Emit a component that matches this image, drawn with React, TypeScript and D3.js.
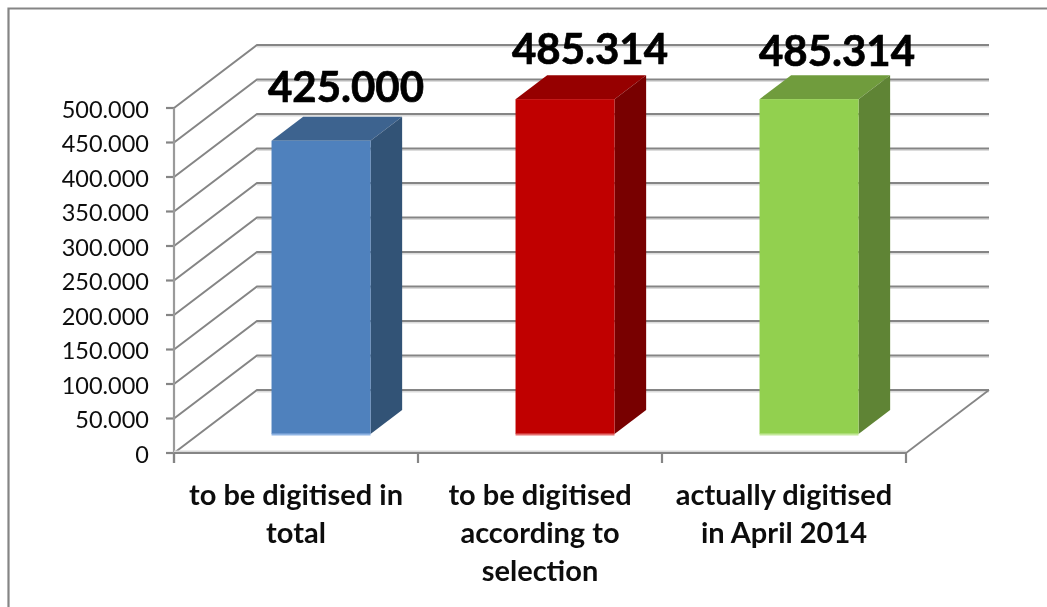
import React from "react";
import * as d3 from "d3";

const categories = [
  ["to be digitised in", "total"],
  ["to be digitised", "according to", "selection"],
  ["actually digitised", "in April 2014"],
];
const values = [425000, 485314, 485314];
const frontColors = ["#4f81bd", "#c00000", "#92d050"];
const topColors = ["#3e648f", "#960000", "#709c3e"];
const sideColors = ["#325276", "#780000", "#5f8434"];
const baseColors = ["#8fb4e3", "#e46c6c", "#c3e89a"];
const tickValues = d3.range(0, 500001, 50000);

const W = 1047, H = 607;
const FONT = "Lato, 'Open Sans', sans-serif";
const GRID = "#858585";
const fmt = d3.formatLocale({ decimal: ",", thousands: ".", grouping: [3], currency: ["", ""] }).format(",d");

const x = d3.scaleBand<number>().domain(d3.range(categories.length)).range([174, 906]);
const y = d3.scaleLinear().domain([0, 500000]).range([453, 108]);
const wallDx = 83, wallDy = -63;
const barWidth = 99;
const depthStart = 19 / 63, depthSize = 24 / 63;
// Hand-placed value labels of the reference, relative to the top of each bar
const labelDx = [25, 25, 28], labelDy = [-39, -35, -33];

export default function App() {
  const poly = d3.line();
  return (
    <svg width={W} height={H} viewBox={`0 0 ${W} ${H}`} style={{ position: "absolute", left: 0, top: 0, background: "#fff" }}>
      <defs>
        <filter id="soft" x="-2%" y="-2%" width="104%" height="104%">
          <feGaussianBlur stdDeviation="0.45" />
        </filter>
      </defs>
      <g filter="url(#soft)">
        <path d={`M8.5,${H} V8.5 H${W}`} fill="none" stroke="#858585" strokeWidth={2.2} />

        {tickValues.map((v) => {
          const fy = y(v);
          const by = fy + wallDy;
          return (
            <g key={v}>
              <line x1={174 + wallDx} x2={906 + wallDx} y1={by + 1.8} y2={by + 1.8} stroke="#dcdcdc" strokeWidth={1.5} />
              <path
                d={poly([[174, fy], [174 + wallDx, by], [906 + wallDx, by]]) ?? ""}
                fill="none"
                stroke={GRID}
                strokeWidth={2}
              />
              <line x1={166} x2={174} y1={fy} y2={fy} stroke={GRID} strokeWidth={2.2} />
              <text x={149} y={fy + 9.5} textAnchor="end" fontFamily={FONT} fontSize={23.5} fill="#111">
                {v === 0 ? "0" : fmt(v)}
              </text>
            </g>
          );
        })}

        <line x1={174} x2={174} y1={y(500000)} y2={463} stroke="#9a9a9a" strokeWidth={2.2} />
        <line x1={174} x2={906} y1={y(0) - 1.8} y2={y(0) - 1.8} stroke="#d8d8d8" strokeWidth={1.5} />
        <line x1={174} x2={906} y1={y(0)} y2={y(0)} stroke={GRID} strokeWidth={2} />
        <line x1={906} x2={906 + wallDx} y1={y(0)} y2={y(0) + wallDy} stroke={GRID} strokeWidth={1.8} />
        {d3.range(categories.length + 1).map((i) => {
          const tx = i < categories.length ? x(i)! : x.range()[1];
          return <line key={i} x1={tx} x2={tx} y1={y(0)} y2={463} stroke={GRID} strokeWidth={2.2} />;
        })}

        {values.map((v, i) => {
          const cx = x(i)! + x.bandwidth() / 2 + wallDx * depthStart;
          const x0 = cx - barWidth / 2, x1 = cx + barWidth / 2;
          const shift = wallDy * depthStart;
          const yb = y(0) + shift, yt = y(v) + shift;
          const ddx = wallDx * depthSize, ddy = wallDy * depthSize;
          return (
            <g key={i}>
              <path d={poly([[x0, yt], [x1, yt], [x1 + ddx, yt + ddy], [x0 + ddx, yt + ddy]])! + "Z"} fill={topColors[i]} />
              <path d={poly([[x1, yt], [x1 + ddx, yt + ddy], [x1 + ddx, yb + ddy], [x1, yb]])! + "Z"} fill={sideColors[i]} />
              <rect x={x0} y={yt} width={barWidth} height={yb - yt} fill={frontColors[i]} />
              <rect x={x0} y={yb - 0.5} width={barWidth} height={2} fill={baseColors[i]} />
              <text
                x={cx + labelDx[i]}
                y={yt + labelDy[i]}
                textAnchor="middle"
                fontFamily={FONT}
                fontWeight={700}
                fontSize={42}
                fill="#000"
                stroke="#000"
                strokeWidth={0.7}
              >
                {fmt(v)}
              </text>
            </g>
          );
        })}

        {categories.map((lines, i) => (
          <text
            key={i}
            x={x(i)! + x.bandwidth() / 2}
            textAnchor="middle"
            fontFamily={FONT}
            fontWeight={700}
            fontSize={29}
            fill="#111"
          >
            {lines.map((l, j) => (
              <tspan key={j} x={x(i)! + x.bandwidth() / 2} y={505 + j * 38}>
                {l}
              </tspan>
            ))}
          </text>
        ))}
      </g>
    </svg>
  );
}
